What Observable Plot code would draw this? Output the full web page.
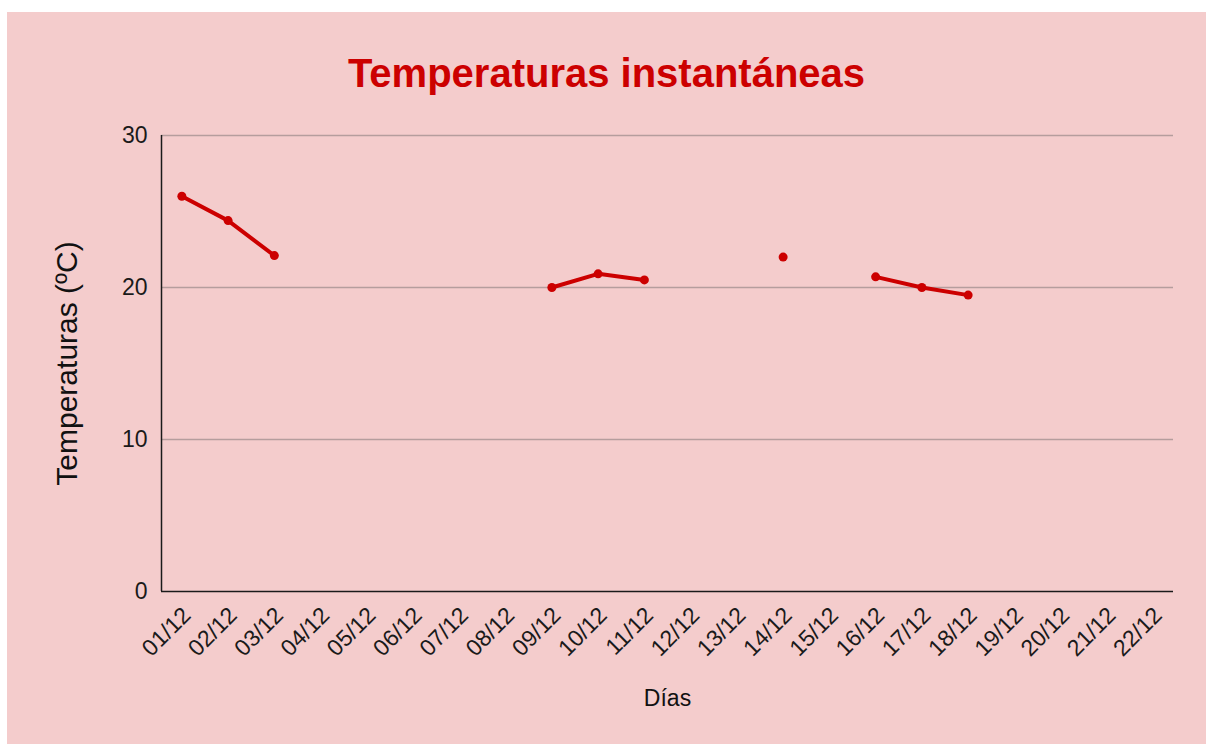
<!DOCTYPE html>
<html>
<head>
<meta charset="utf-8">
<script src="https://cdn.jsdelivr.net/npm/d3@7"></script>
<script src="https://cdn.jsdelivr.net/npm/@observablehq/plot@0.6"></script>
<style>
  html, body { margin: 0; padding: 0; background: #ffffff; }
  #panel {
    position: absolute; left: 7px; top: 12px; width: 1199px; height: 732px;
    background: #f4cccc; font-family: "Liberation Sans", Arial, sans-serif;
  }
  #title {
    height: 100px; box-sizing: border-box; padding-top: 41px;
    font-size: 40px; line-height: 40px; font-weight: bold; color: #cc0000;
    text-align: center;
  }
  svg { display: block; }
</style>
</head>
<body>
<div id="panel">
  <div id="title">Temperaturas instantáneas</div>
  <div id="chart"></div>
</div>
<script>
const days = ["01/12","02/12","03/12","04/12","05/12","06/12","07/12","08/12","09/12","10/12","11/12",
              "12/12","13/12","14/12","15/12","16/12","17/12","18/12","19/12","20/12","21/12","22/12"];
const temps = [26, 24.4, 22.1, null, null, null, null, null, 20, 20.9, 20.5,
               null, null, 22, null, 20.7, 20, 19.5, null, null, null, null];
const yTicks = [0, 10, 20, 30];
const xLabel = "Días";
const yLabel = "Temperaturas (ºC)";

const data = days.map((d, i) => ({day: d, t: temps[i]}));
const defined = data.filter(d => d.t != null);

const W = 1199, H = 632, ML = 154, MR = 33, MT = 23, MB = 153;
const pad = 0.44;
const step = (W - ML - MR) / (days.length - 1 + 2 * pad);

const chart = Plot.plot({
  width: W,
  height: H,
  marginTop: MT,
  marginBottom: MB,
  marginLeft: ML,
  marginRight: MR,
  style: {background: "transparent", fontFamily: "'Liberation Sans', Arial, sans-serif", fontSize: "24px", color: "#1a1a1a"},
  x: {type: "point", domain: days, padding: pad, round: false},
  y: {domain: [0, 30]},
  marks: [
    Plot.ruleY(yTicks.filter(v => v > 0), {stroke: "#b59d9d", strokeWidth: 1.5}),
    Plot.axisY({ticks: yTicks, tickSize: 0, tickPadding: 14, label: null, fontSize: 23}),
    Plot.axisX({tickSize: 0, tickRotate: -45, tickPadding: 16, dx: 5, dy: 4, label: null, fontSize: 23}),
    Plot.ruleY([0], {stroke: "#1a1a1a", strokeWidth: 1.5}),
    // left axis line at the frame's left edge (half a padded step left of the first day)
    Plot.ruleX([days[0]], {y1: 0, y2: 30, dx: -pad * step, stroke: "#1a1a1a", strokeWidth: 1.5}),
    Plot.line(data, {x: "day", y: "t", stroke: "#cc0000", strokeWidth: 4}),
    Plot.dot(defined, {x: "day", y: "t", fill: "#cc0000", r: 4.5}),
    Plot.text([xLabel], {frameAnchor: "bottom", dy: 114, fontSize: 23, fill: "#111", textAnchor: "middle"}),
    Plot.text([yLabel], {frameAnchor: "left", dx: -94, rotate: -90, fontSize: 30, fill: "#111", textAnchor: "middle"})
  ]
});
document.getElementById("chart").appendChild(chart);
</script>
</body>
</html>
